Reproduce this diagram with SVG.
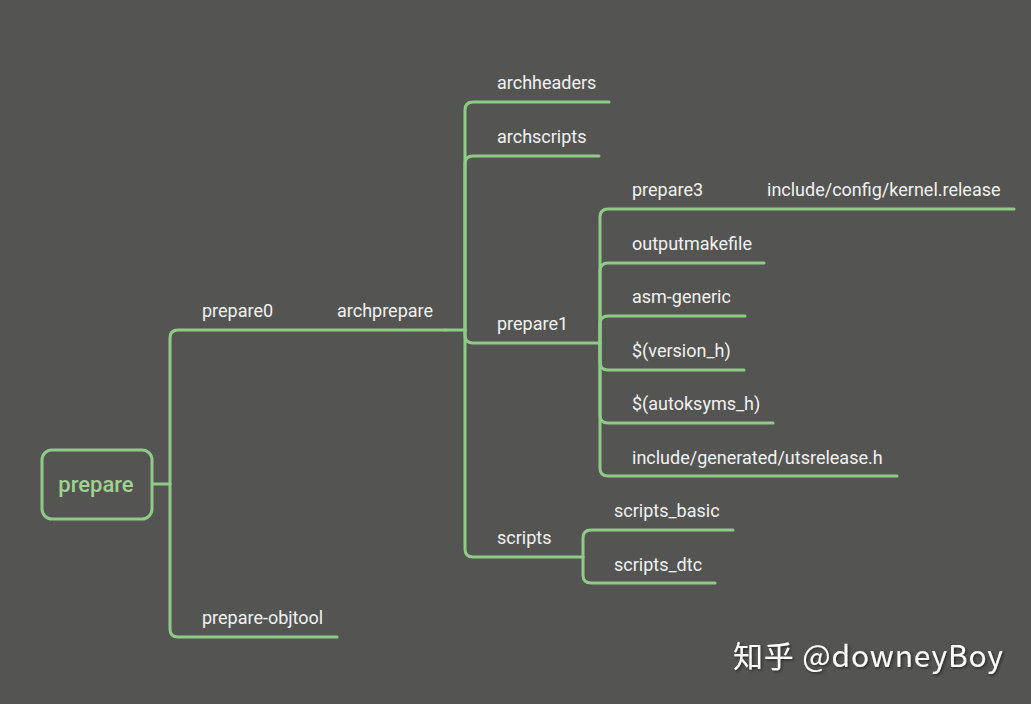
<svg xmlns="http://www.w3.org/2000/svg" width="1031" height="704" viewBox="0 0 1031 704">
<style>
.bg{fill:#545553}
.c{fill:none;stroke:#8fcb87;stroke-width:3;stroke-linecap:round;stroke-linejoin:round}
.t{font-family:Roboto,"Liberation Sans",sans-serif;font-size:18px;fill:#f2f2f2}
.root{font-family:Roboto,"Liberation Sans",sans-serif;font-size:22px;font-weight:500;fill:#9fd391}
.wm{font-family:"Noto Sans CJK SC","DejaVu Sans",sans-serif;font-size:30px;fill:#ffffff}
</style>
<defs>
<filter id="sh" x="-10%" y="-30%" width="120%" height="160%">
<feDropShadow dx="1.5" dy="1.5" stdDeviation="1" flood-color="#222" flood-opacity="0.8"/>
</filter>
</defs>
<rect class="bg" x="0" y="0" width="1031" height="704"/>
<g id="connectors">
<path class="c" d="M152,484 H170"/>
<path class="c" d="M170,484 V338 Q170,330 178,330 H445"/>
<path class="c" d="M170,484 V629 Q170,637 178,637 H337"/>
<path class="c" d="M445,330 H465"/>
<path class="c" d="M465,330 V110 Q465,102 473,102 H609"/>
<path class="c" d="M465,330 V164 Q465,156 473,156 H599"/>
<path class="c" d="M465,330 V335 Q465,343 473,343 H600"/>
<path class="c" d="M465,330 V549 Q465,557 473,557 H583"/>
<path class="c" d="M600,343 V217 Q600,209 608,209 H1014"/>
<path class="c" d="M600,343 V271 Q600,263 608,263 H764"/>
<path class="c" d="M600,343 V324 Q600,316 608,316 H745"/>
<path class="c" d="M600,343 V362 Q600,370 608,370 H744"/>
<path class="c" d="M600,343 V415 Q600,423 608,423 H773"/>
<path class="c" d="M600,343 V468 Q600,476 608,476 H897"/>
<path class="c" d="M583,557 V538 Q583,530 591,530 H733"/>
<path class="c" d="M583,557 V575 Q583,583 591,583 H715"/>
</g>
<g id="node-prepare">
<rect x="42" y="450" width="110" height="69" rx="10" fill="#545553" stroke="#8fcb87" stroke-width="3"/>
<text class="root" x="96" y="492" text-anchor="middle">prepare</text>
</g>
<g id="node-prepare0"><text class="t" x="202" y="317">prepare0</text></g>
<g id="node-archprepare"><text class="t" x="337" y="317">archprepare</text></g>
<g id="node-prepare-objtool"><text class="t" x="202" y="624">prepare-objtool</text></g>
<g id="node-archheaders"><text class="t" x="497" y="89">archheaders</text></g>
<g id="node-archscripts"><text class="t" x="497" y="143">archscripts</text></g>
<g id="node-prepare1"><text class="t" x="497" y="330">prepare1</text></g>
<g id="node-scripts"><text class="t" x="497" y="544">scripts</text></g>
<g id="node-prepare3"><text class="t" x="632" y="196">prepare3</text></g>
<g id="node-kernel-release"><text class="t" x="767" y="196">include/config/kernel.release</text></g>
<g id="node-outputmakefile"><text class="t" x="632" y="250">outputmakefile</text></g>
<g id="node-asm-generic"><text class="t" x="632" y="303">asm-generic</text></g>
<g id="node-version-h"><text class="t" x="632" y="357">$(version_h)</text></g>
<g id="node-autoksyms-h"><text class="t" x="632" y="410">$(autoksyms_h)</text></g>
<g id="node-utsrelease"><text class="t" x="632" y="464">include/generated/utsrelease.h</text></g>
<g id="node-scripts-basic"><text class="t" x="614" y="517">scripts_basic</text></g>
<g id="node-scripts-dtc"><text class="t" x="614" y="571">scripts_dtc</text></g>
<g id="watermark"><text class="wm" x="733" y="667" textLength="270" lengthAdjust="spacing" filter="url(#sh)">知乎 @downeyBoy</text></g>
</svg>
